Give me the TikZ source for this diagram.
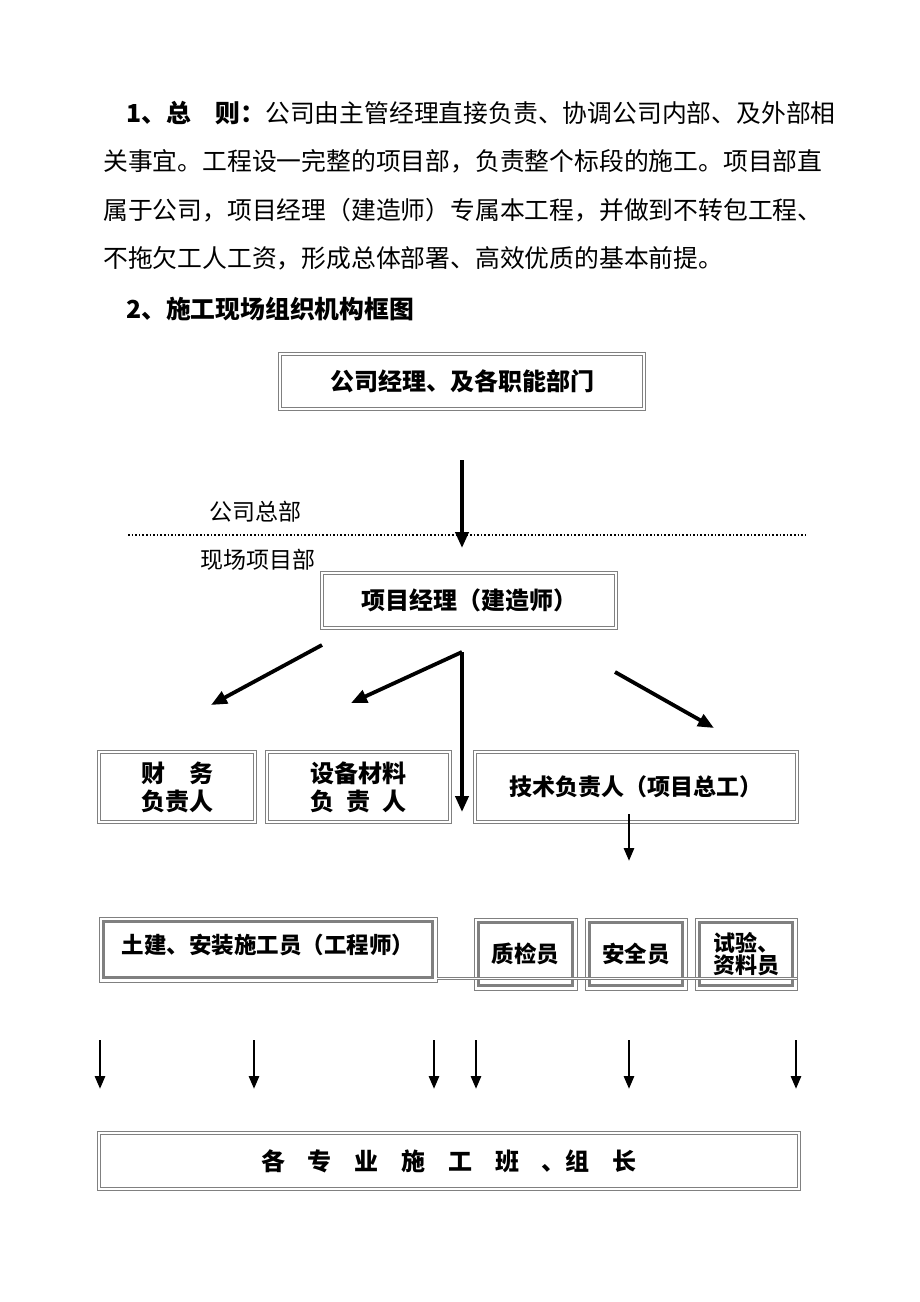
\documentclass[tikz,border=0pt]{standalone}
\usepackage{fontspec}
\setmainfont{Noto Sans CJK SC}
\usetikzlibrary{arrows.meta,calc}

\tikzset{
	dbox/.style={draw=gray, double=white, double distance=1.5pt, line width=1.1pt,
		inner sep=0pt, align=center, font=\bfseries\fontsize{24}{28}\selectfont},
	tbox/.style={draw=gray, line width=1pt, inner sep=0pt, align=center,
		font=\bfseries\fontsize{22.5}{25}\selectfont,
		path picture={\draw[gray, line width=3.5pt]
			([shift={(4.5pt,-4.5pt)}]path picture bounding box.north west) rectangle
			([shift={(-4.5pt,4.5pt)}]path picture bounding box.south east);}},
	bigarrow/.style={line width=3.8pt, -{Triangle[width=13pt,length=16pt]}},
	smallarrow/.style={line width=2.8pt, -{Triangle[width=10pt,length=13pt]}},
	bodytext/.style={anchor=west, inner sep=0pt, font=\fontsize{24.8}{30}\selectfont},
	sidetext/.style={inner sep=0pt, font=\fontsize{23}{26}\selectfont},
}
\newcommand{\gapsp}{\hspace{0.95em}}

\begin{document}
\begin{tikzpicture}[x=1pt, y=-1pt]
	\useasboundingbox[fill=white] (0,0) rectangle (920,1302);
	% text above the chart
	\node[bodytext] (l1) at (126,113) {\textbf{1、总　则：}公司由主管经理直接负责、协调公司内部、及外部相};
	\node[bodytext] (l2) at (103,161) {关事宜。工程设一完整的项目部，负责整个标段的施工。项目部直};
	\node[bodytext] (l3) at (103,210) {属于公司，项目经理（建造师）专属本工程，并做到不转包工程、};
	\node[bodytext] (l4) at (103,258) {不拖欠工人工资，形成总体部署、高效优质的基本前提。};
	\node[bodytext, font=\bfseries\fontsize{24.8}{30}\selectfont] (hd) at (126,309) {2、施工现场组织机构框图};

	% company level
	\node[dbox, minimum width=364pt, minimum height=55pt] (gs) at (462,381.5) {公司经理、及各职能部门};
	\node[sidetext] (zb) at (255,512) {公司总部};
	\node[sidetext] (xc) at (258,560) {现场项目部};
	\draw[line width=1.6pt, dash pattern=on 1.6pt off 2pt] (128,535) -- (808,535);
	\coordinate (s0) at (462,460);
	\coordinate (e0) at (462,548);
	\draw[bigarrow] (s0) -- (e0);

	% project manager
	\node[dbox, minimum width=294pt, minimum height=55pt] (pm) at (469,600.5) {项目经理（建造师）};
	\coordinate (s1) at (322,645);
	\coordinate (e1) at (211,705);
	\coordinate (s2) at (462,652);
	\coordinate (e2) at (351,703);
	\coordinate (e3) at (462,812);
	\coordinate (s4) at (615,672);
	\coordinate (e4) at (714,728);
	\draw[bigarrow] (s1) -- (e1);
	\draw[bigarrow] (s2) -- (e2);
	\draw[bigarrow] (s2) -- (e3);
	\draw[bigarrow] (s4) -- (e4);

	% second row
	\node[dbox, minimum width=156pt, minimum height=70pt] (cw) at (177,787) {财　务\\负责人};
	\node[dbox, minimum width=183pt, minimum height=70pt] (sb) at (358.5,787) {设备材料\\负\hspace{0.5em}责\hspace{0.5em}人};
	\node[dbox, minimum width=322pt, minimum height=70pt, font=\bfseries\fontsize{23}{28}\selectfont] (js) at (636,787) {技术负责人（项目总工）};
	\coordinate (s5) at (629,814);
	\coordinate (e5) at (629,861);
	\draw[smallarrow] (s5) -- (e5);

	% third row
	\node[tbox, minimum width=338pt, minimum height=65pt, text depth=12pt] (tj) at (268,949.5) {土建、安装施工员（工程师）};
	\node[tbox, minimum width=103pt, minimum height=72pt] (zj) at (525.5,954) {质检员};
	\node[tbox, minimum width=102pt, minimum height=72pt] (aq) at (636,954) {安全员};
	\node[tbox, minimum width=102pt, minimum height=72pt, font=\bfseries\fontsize{22}{22}\selectfont] (sy) at (746,954) {试验、\\资料员};
	\coordinate (c1) at (437,978.5);
	\coordinate (c2) at (797,978.5);
	\draw[draw=gray, double=white, double distance=1.2pt, line width=1pt] (c1) -- (c2);

	% arrows to the teams
	\foreach \x [count=\i] in {100,254,434,476,629,796} {
		\coordinate (t\i) at (\x,1040);
		\coordinate (b\i) at (\x,1089);
		\draw[smallarrow] (t\i) -- (b\i);
	}

	% bottom
	\node[dbox, line width=1.6pt, double distance=1.6pt, minimum width=700pt, minimum height=56pt] (bz) at (449,1161)
		{各\gapsp 专\gapsp 业\gapsp 施\gapsp 工\gapsp 班\gapsp 、组\gapsp 长};
\end{tikzpicture}
\end{document}
